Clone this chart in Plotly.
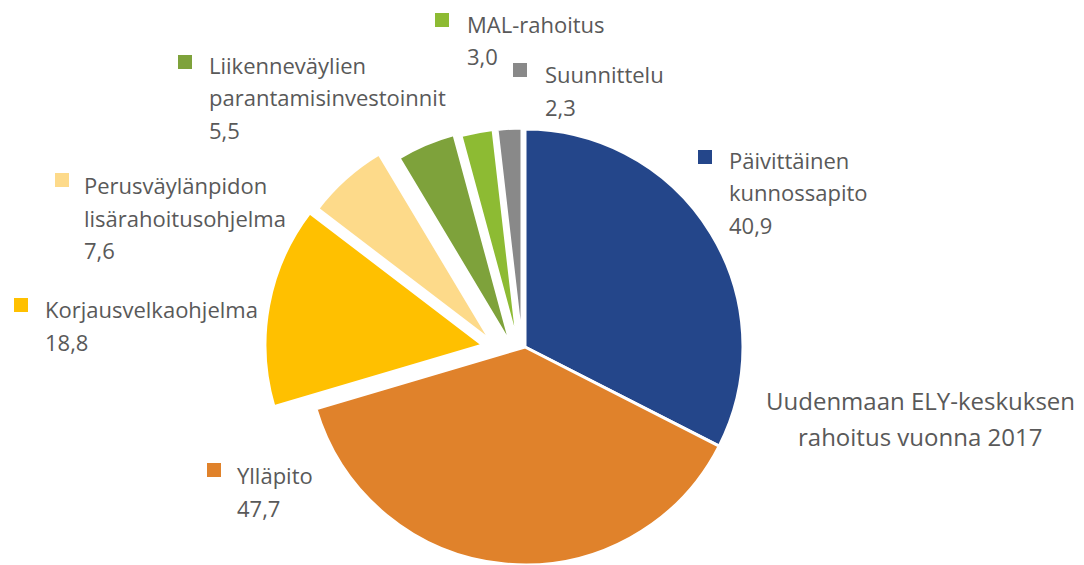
import plotly.graph_objects as go

# ---- data ----
categories = ["Päivittäinen kunnossapito", "Ylläpito", "Korjausvelkaohjelma",
              "Perusväylänpidon lisärahoitusohjelma", "Liikenneväylien parantamisinvestoinnit",
              "MAL-rahoitus", "Suunnittelu"]
values = [40.9, 47.7, 18.8, 7.6, 5.5, 3.0, 2.3]
value_labels = ["40,9", "47,7", "18,8", "7,6", "5,5", "3,0", "2,3"]
label_lines = [["Päivittäinen", "kunnossapito"], ["Ylläpito"], ["Korjausvelkaohjelma"],
               ["Perusväylänpidon", "lisärahoitusohjelma"], ["Liikenneväylien", "parantamisinvestoinnit"],
               ["MAL-rahoitus"], ["Suunnittelu"]]
title_lines = ["Uudenmaan ELY-keskuksen", "rahoitus vuonna 2017"]

# ---- styles / layout (pixels) ----
W, H = 1084, 565
colors = ["#24468A", "#E0822B", "#FFC000", "#FDDA8A", "#7EA23B", "#8DBB33", "#898989"]
# explosion offset of each slice in px (dx, dy; negative dy = up)
shifts = [(0, 0), (0, 0), (-42, -2), (-34, -6), (-14, -2), (-7, -1), (-3, -1)]
CX, CY, R = 525, 347, 218
# label anchor: square centre, text left x, first line centre y
label_pos = [(705, 157, 727, 160), (214, 470, 235, 475), (21, 305, 43, 309),
             (62, 180, 82, 185), (185, 62, 207, 65), (442, 20, 465, 24), (520, 70, 543, 74)]
LINE = 32.5
TXT = "#595959"
FONT = "Open Sans"

fig = go.Figure()
n = len(values)
for i in range(n):
    dx, dy = shifts[i]
    cx, cy = CX + dx, CY + dy
    seg_colors = ["rgba(0,0,0,0)"] * n
    seg_colors[i] = colors[i]
    lw = [0] * n
    lw[i] = 3
    fig.add_trace(go.Pie(
        labels=categories, values=values, sort=False, direction="clockwise", rotation=0,
        textinfo="none", hoverinfo="skip", showlegend=False,
        marker=dict(colors=seg_colors, line=dict(color="white", width=lw)),
        domain=dict(x=[(cx - R) / W, (cx + R) / W],
                    y=[max(0, (H - cy - R) / H), (H - cy + R) / H]),
    ))

shapes = []
annotations = []
S = 7
for i in range(n):
    sx, sy, tx, ty = label_pos[i]
    shapes.append(dict(type="rect", xref="paper", yref="paper",
                       x0=(sx - S) / W, x1=(sx + S) / W, y0=1 - (sy + S) / H, y1=1 - (sy - S) / H,
                       fillcolor=colors[i], line=dict(width=0)))
    lines = label_lines[i] + [value_labels[i]]
    for k, t in enumerate(lines):
        annotations.append(dict(text=t, x=tx / W, y=1 - (ty + k * LINE) / H, xref="paper", yref="paper",
                                xanchor="left", yanchor="middle", showarrow=False,
                                font=dict(family=FONT, size=22, color=TXT)))

for k, t in enumerate(title_lines):
    annotations.append(dict(text=t, x=920 / W, y=1 - (401 + k * 35) / H, xref="paper", yref="paper",
                            xanchor="center", yanchor="middle", showarrow=False,
                            font=dict(family=FONT, size=24, color=TXT)))

fig.update_layout(width=W, height=H, margin=dict(l=0, r=0, t=0, b=0),
                  paper_bgcolor="white", plot_bgcolor="white",
                  shapes=shapes, annotations=annotations)

fig.write_html("out.html", config={"displayModeBar": False},
               post_script="document.body.style.margin='0';document.body.style.overflow='hidden';")
